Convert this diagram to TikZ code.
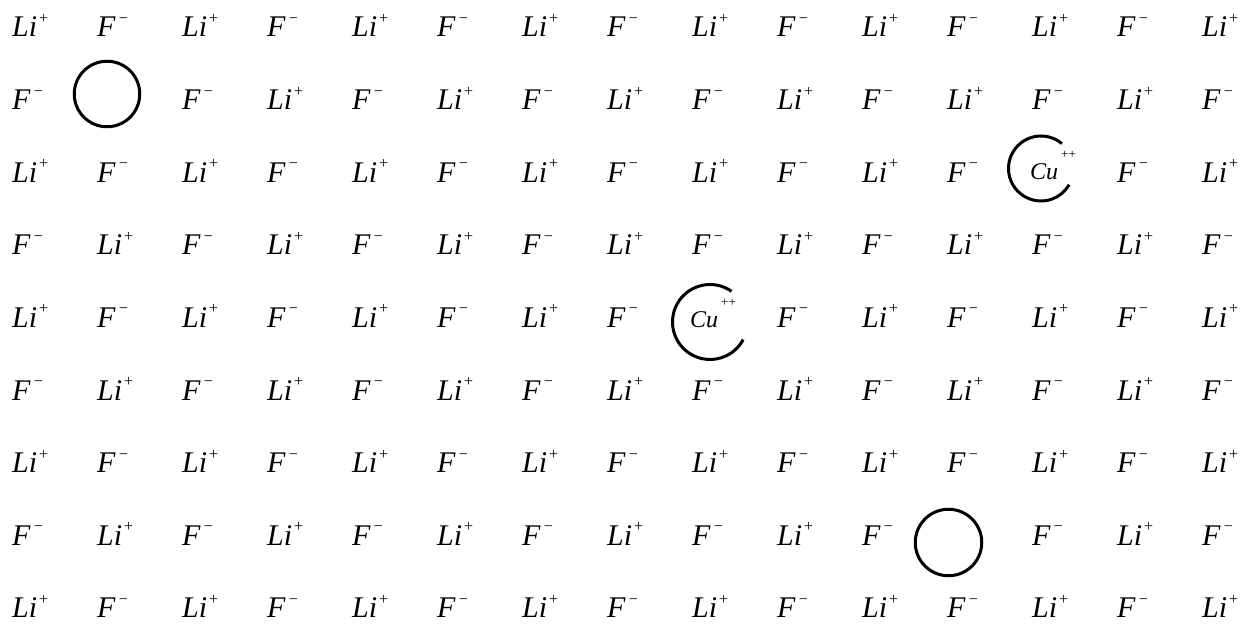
\documentclass[tikz,border=0pt]{standalone}
\usepackage{fontspec}
\setmainfont{Liberation Serif}
\newcommand{\ionup}[1]{\kern2pt\raisebox{13.5pt}{\fontsize{16}{16}\selectfont #1}}
\newcommand{\Lion}{\textit{Li}\ionup{+}}
\newcommand{\Fion}{\textit{F}\kern1pt\ionup{\char"2212}}
\newcommand{\Cuion}{{\fontsize{24}{24}\selectfont\textit{Cu}}\kern3pt\raisebox{21pt}{\fontsize{13}{13}\selectfont ++}}
\begin{document}
\begin{tikzpicture}[x=1pt,y=1pt,
  ion/.style={anchor=base west, inner sep=0pt, font=\fontsize{30}{30}\selectfont},
  ring/.style={line width=3pt},
  vacancy/.style={draw, circle, ring, inner sep=0pt}]
\useasboundingbox (0,0) rectangle (1244,-628);
\foreach \r in {1,...,9}{
  \foreach \c in {1,...,15}{
    \pgfmathtruncatemacro{\sp}{((\r==2)&&(\c==2))||((\r==3)&&(\c==13))||((\r==5)&&(\c==9))||((\r==8)&&(\c==12))}
    \pgfmathsetmacro{\xx}{12+85*(\c-1)}
    \pgfmathsetmacro{\yy}{-(37+72.6*(\r-1))}
    \pgfmathtruncatemacro{\pty}{mod(\r+\c,2)}
    \ifnum\sp=0
      \ifnum\pty=0
        \node[ion] (n-\r-\c) at (\xx,\yy) {\Lion};
      \else
        \node[ion] (n-\r-\c) at (\xx,\yy) {\Fion};
      \fi
    \fi
  }
}
% vacancies
\node[vacancy, minimum size=65.5pt] (v1) at (107,-94) {};
\node[vacancy, minimum size=66.5pt] (v2) at (948.5,-542.5) {};
% copper ions
\node[ion] (cu1) at (1030,-180) {\Cuion};
\node[ion] (cu2) at (690,-327) {\Cuion};
\coordinate (r1) at (1041,-168.5);
\coordinate (r2) at (710,-322);
\draw[ring] (r1) ++(50:32.5) arc[start angle=50, end angle=330, radius=32.5];
\draw[ring] (r2) ++(55:37.5) arc[start angle=55, end angle=332, radius=37.5];
\end{tikzpicture}
\end{document}
